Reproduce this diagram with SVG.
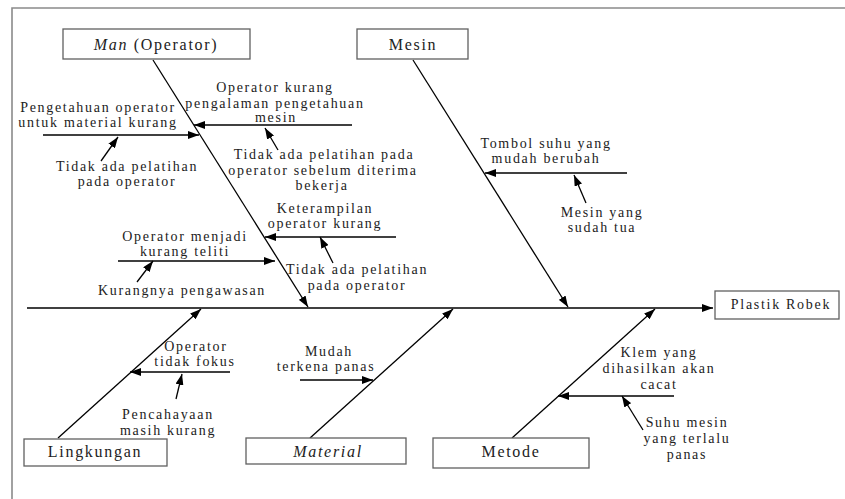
<svg xmlns="http://www.w3.org/2000/svg" width="845" height="499" viewBox="0 0 845 499">
<style>
.frame{fill:none;stroke:#8a8a8a;stroke-width:1.6}
.box{fill:#fff;stroke:#606060;stroke-width:1.3}
.ln{fill:none;stroke:#000;stroke-width:1.3}
.arr{marker-end:url(#ah)}
text{fill:#222;text-anchor:middle}
.t{font-size:14px;letter-spacing:1.7px}
.lb{font-size:16px;letter-spacing:1.7px}
.it{font-style:italic}
</style>
<defs>
<marker id="ah" markerUnits="userSpaceOnUse" markerWidth="11" markerHeight="8" refX="11" refY="4" orient="auto">
<path d="M0,0 L11,4 L0,8 z" fill="#000"/>
</marker>
</defs>
<rect width="845" height="499" fill="#fff"/>
<path class="frame" d="M12,499 L12,8 L845,8"/>

<g id="connectors">
<line class="ln arr" x1="27" y1="308" x2="713" y2="308"/>
<line class="ln arr" x1="153" y1="60" x2="308" y2="307"/>
<line class="ln arr" x1="413" y1="60" x2="568" y2="307"/>
<line class="ln arr" x1="58" y1="438" x2="201" y2="309"/>
<line class="ln arr" x1="310" y1="438" x2="453" y2="309"/>
<line class="ln arr" x1="512" y1="438" x2="655" y2="309"/>

<line class="ln arr" x1="352" y1="125" x2="194" y2="125"/>
<line class="ln arr" x1="278" y1="150" x2="265" y2="128"/>
<line class="ln arr" x1="43" y1="135" x2="199" y2="135"/>
<line class="ln arr" x1="101" y1="161" x2="118" y2="137"/>
<line class="ln arr" x1="396" y1="237" x2="265" y2="237"/>
<line class="ln arr" x1="333" y1="263" x2="320" y2="237"/>
<line class="ln arr" x1="118" y1="261" x2="275" y2="261"/>
<line class="ln arr" x1="137" y1="282" x2="153" y2="261"/>

<line class="ln arr" x1="627" y1="173" x2="485" y2="173"/>
<line class="ln arr" x1="586" y1="203" x2="574" y2="175"/>

<line class="ln arr" x1="230" y1="372" x2="130" y2="372"/>
<line class="ln arr" x1="176" y1="399" x2="182" y2="374"/>
<line class="ln arr" x1="300" y1="380" x2="373" y2="380"/>
<line class="ln arr" x1="674" y1="396" x2="558" y2="396"/>
<line class="ln arr" x1="643" y1="430" x2="622" y2="396"/>
</g>

<g font-family="'Liberation Serif', 'DejaVu Serif', serif">
<g id="node-man">
<rect class="box" x="63" y="29" width="187" height="30"/>
<text class="lb" x="156" y="50"><tspan class="it">Man</tspan> (Operator)</text>
</g>
<g id="node-mesin">
<rect class="box" x="357" y="29" width="111" height="30"/>
<text class="lb" x="413" y="50">Mesin</text>
</g>
<g id="node-plastik">
<rect class="box" x="715" y="291" width="124" height="28"/>
<text class="t" x="781" y="309">Plastik Robek</text>
</g>
<g id="node-lingkungan">
<rect class="box" x="24" y="439" width="143" height="27"/>
<text class="lb" x="95" y="457">Lingkungan</text>
</g>
<g id="node-material">
<rect class="box" x="246" y="438" width="160" height="26"/>
<text class="lb it" x="328" y="457">Material</text>
</g>
<g id="node-metode">
<rect class="box" x="433" y="438" width="156" height="30"/>
<text class="lb" x="511" y="457">Metode</text>
</g>

<g id="causes-man">
<text class="t" x="275" y="92">Operator kurang</text>
<text class="t" x="275" y="108">pengalaman pengetahuan</text>
<text class="t" x="276" y="122">mesin</text>
<text class="t" x="324" y="159">Tidak ada pelatihan pada</text>
<text class="t" x="323" y="175">operator sebelum diterima</text>
<text class="t" x="322" y="190">bekerja</text>
<text class="t" x="98" y="112">Pengetahuan operator</text>
<text class="t" x="98" y="127">untuk material kurang</text>
<text class="t" x="127" y="171">Tidak ada pelatihan</text>
<text class="t" x="127" y="186">pada operator</text>
<text class="t" x="325" y="213">Keterampilan</text>
<text class="t" x="325" y="228">operator kurang</text>
<text class="t" x="357" y="274">Tidak ada pelatihan</text>
<text class="t" x="357" y="290">pada operator</text>
<text class="t" x="185" y="241">Operator menjadi</text>
<text class="t" x="185" y="256">kurang teliti</text>
<text class="t" x="182" y="295">Kurangnya pengawasan</text>
</g>
<g id="causes-mesin">
<text class="t" x="546" y="148">Tombol suhu yang</text>
<text class="t" x="546" y="163">mudah berubah</text>
<text class="t" x="602" y="217">Mesin yang</text>
<text class="t" x="602" y="232">sudah tua</text>
</g>
<g id="causes-lingkungan">
<text class="t" x="196" y="351">Operator</text>
<text class="t" x="195" y="366">tidak fokus</text>
<text class="t" x="168" y="419">Pencahayaan</text>
<text class="t" x="168" y="435">masih kurang</text>
</g>
<g id="causes-material">
<text class="t" x="329" y="356">Mudah</text>
<text class="t" x="326" y="371">terkena panas</text>
</g>
<g id="causes-metode">
<text class="t" x="659" y="357">Klem yang</text>
<text class="t" x="659" y="373">dihasilkan akan</text>
<text class="t" x="659" y="389">cacat</text>
<text class="t" x="687" y="427">Suhu mesin</text>
<text class="t" x="687" y="443">yang terlalu</text>
<text class="t" x="687" y="459">panas</text>
</g>
</g>
</svg>
